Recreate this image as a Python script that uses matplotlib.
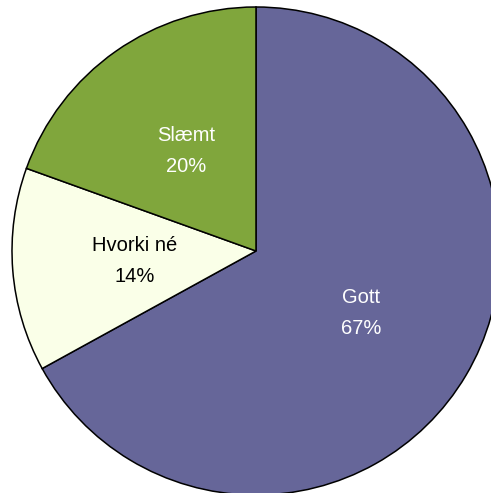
import matplotlib
matplotlib.use("Agg")
import matplotlib.pyplot as plt

categories = ["Gott", "Hvorki né", "Slæmt"]
values = [67.0, 13.5, 19.5]
pct_labels = ["67%", "14%", "20%"]
colors = ["#666699", "#FAFFE8", "#80A63C"]
text_colors = ["white", "black", "white"]

W, H = 491, 493
fig = plt.figure(figsize=(W / 100, H / 100), dpi=100)
ax = fig.add_axes([0, 0, 1, 1])

labels = [f"{c}\n{p}" for c, p in zip(categories, pct_labels)]
wedges, texts = ax.pie(values, labels=labels, colors=colors, startangle=90,
                       counterclock=False, center=(256, H - 251), radius=244,
                       labeldistance=0.5, frame=True,
                       wedgeprops=dict(edgecolor="black", linewidth=1.1),
                       textprops=dict(fontsize=14.5, ha="center", va="center",
                                      linespacing=1.8,
                                      family=["Liberation Sans", "DejaVu Sans"]))
for t, c in zip(texts, text_colors):
    t.set_color(c)
    t.set_horizontalalignment("center")
ax.set_xlim(0, W)
ax.set_ylim(0, H)
ax.set_aspect("equal")
ax.axis("off")

fig.savefig("out.png", dpi=100)
